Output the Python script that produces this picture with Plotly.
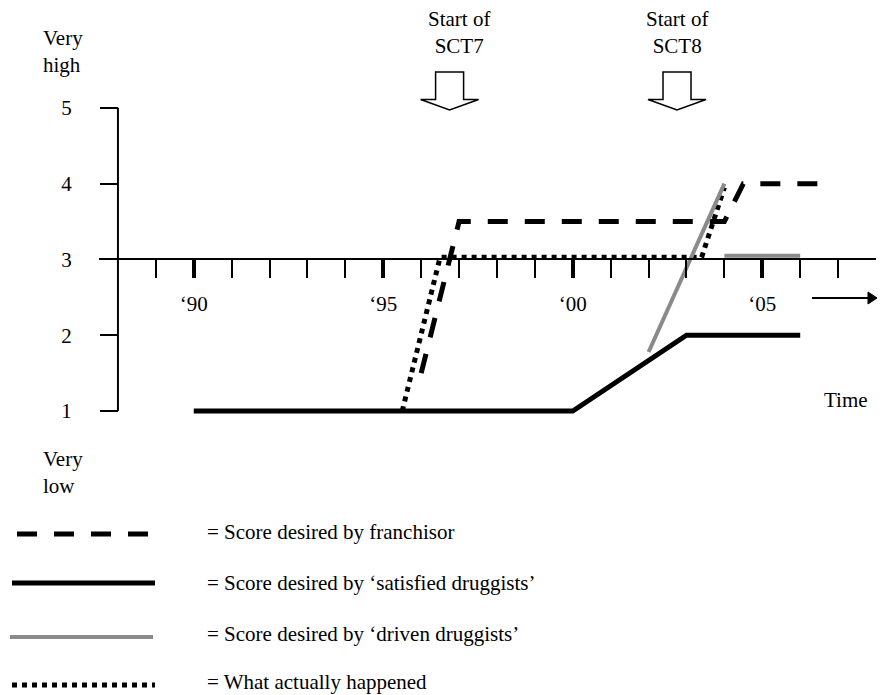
import plotly.graph_objects as go

# ---------------- data ----------------
major_years = [1990, 1995, 2000, 2005]
major_labels = ["‘90", "‘95", "‘00", "‘05"]
minor_years = [1989, 1991, 1992, 1993, 1994, 1996, 1997, 1998, 1999,
               2001, 2002, 2003, 2004, 2006, 2007]
score_ticks = [1, 2, 3, 4, 5]

franchisor_x = [1996.0, 1997.0, 2004.0, 2004.5, 2006.5]
franchisor_y = [1.5, 3.5, 3.5, 4.0, 4.0]

satisfied_x = [1990, 2000, 2003, 2006]
satisfied_y = [1, 1, 2, 2]

driven_x = [2002, 2004, None, 2004, 2006]
driven_y = [1.78, 4.0, None, 3.05, 3.05]

actual_x = [1995.5, 1996.5, 2003.4, 2004.0]
actual_y = [1.0, 3.03, 3.03, 3.95]

sct_arrow_years = [1996.75, 2002.75]
sct_label_years = [1997.0, 2002.75]
sct_labels = ["Start of<br>SCT7", "Start of<br>SCT8"]

legend_labels = [
    "= Score desired by franchisor",
    "= Score desired by ‘satisfied druggists’",
    "= Score desired by ‘driven druggists’",
    "= What actually happened",
]

# ---------------- layout constants ----------------
OFF = 8                      # page body margin of the html page
W, H = 886 - OFF, 695 - OFF
PLOT_LEFT, PLOT_TOP = 99, 32  # in window pixels
MR, MB = 10, 246
ML, MT = PLOT_LEFT - OFF, PLOT_TOP - OFF
X_RANGE = [1987.5, 2008.0]
Y_RANGE = [0.5, 6.0]
Y_AXIS_AT = 1988
X_AXIS_AT = 3
FONT = "Liberation Serif, Times New Roman, serif"
FS = 21
GRAY = "#8a8a8a"
DASH = "20px,17px"
DOT = "5px,5px"

PW = W - ML - MR
PH = H - MT - MB


def px_x(px):
    return (px - PLOT_LEFT) / PW


def px_y(py):
    return (PLOT_TOP + PH - py) / PH


def y_at_px(py):
    return Y_RANGE[1] - (py - PLOT_TOP) / PH * (Y_RANGE[1] - Y_RANGE[0])


fig = go.Figure()

fig.add_trace(go.Scatter(x=satisfied_x, y=satisfied_y, mode="lines",
                         line=dict(color="black", width=5),
                         hoverinfo="skip", showlegend=False))
fig.add_trace(go.Scatter(x=franchisor_x, y=franchisor_y, mode="lines",
                         line=dict(color="black", width=5, dash=DASH),
                         hoverinfo="skip", showlegend=False))
fig.add_trace(go.Scatter(x=actual_x, y=actual_y, mode="lines",
                         line=dict(color="black", width=5, dash=DOT),
                         hoverinfo="skip", showlegend=False))
fig.add_trace(go.Scatter(x=driven_x, y=driven_y, mode="lines",
                         line=dict(color=GRAY, width=4),
                         connectgaps=False,
                         hoverinfo="skip", showlegend=False))

shapes = []
# vertical score axis line (from 1 to 5)
shapes.append(dict(type="line", xref="x", yref="y",
                   x0=Y_AXIS_AT, x1=Y_AXIS_AT, y0=score_ticks[0], y1=score_ticks[-1],
                   line=dict(color="black", width=2)))

# block arrows "Start of SCTx"
tip_y = y_at_px(110)
arrow_path = "M -14,38 L -14,10.5 L -29,10.5 L 0,0 L 29,10.5 L 14,10.5 L 14,38 Z"
for yr in sct_arrow_years:
    shapes.append(dict(type="path", xref="x", yref="y",
                       xsizemode="pixel", ysizemode="pixel",
                       xanchor=yr, yanchor=tip_y, path=arrow_path,
                       fillcolor="white", line=dict(color="black", width=1.5)))

# time arrow (shaft + filled head), placed in page pixels
ARROW_TAIL, ARROW_TIP, ARROW_Y = 812, 877, 298
shapes.append(dict(type="line", xref="paper", yref="paper",
                   x0=px_x(ARROW_TAIL), x1=px_x(ARROW_TIP - 8), y0=px_y(ARROW_Y), y1=px_y(ARROW_Y),
                   line=dict(color="black", width=2)))
head = "M {:.5f},{:.5f} L {:.5f},{:.5f} L {:.5f},{:.5f} Z".format(
    px_x(ARROW_TIP), px_y(ARROW_Y), px_x(ARROW_TIP - 9), px_y(ARROW_Y - 6),
    px_x(ARROW_TIP - 9), px_y(ARROW_Y + 6))
shapes.append(dict(type="path", xref="paper", yref="paper", path=head,
                   fillcolor="black", line=dict(color="black", width=1)))

# legend samples
legend_rows = [(17, 150, 534, dict(color="black", width=5, dash=DASH)),
               (12, 155, 583, dict(color="black", width=5)),
               (10, 153, 637, dict(color=GRAY, width=4)),
               (12, 155, 685, dict(color="black", width=5, dash=DOT))]
for x0, x1, yy, ln in legend_rows:
    shapes.append(dict(type="line", xref="paper", yref="paper",
                       x0=px_x(x0), x1=px_x(x1), y0=px_y(yy), y1=px_y(yy), line=ln))

annotations = []
legend_text_y = [532, 583, 634, 682]
for lab, yy in zip(legend_labels, legend_text_y):
    annotations.append(dict(xref="paper", yref="paper", x=px_x(205), y=px_y(yy),
                            xanchor="left", yanchor="middle", text=lab,
                            showarrow=False, font=dict(size=FS)))

for yr, lab in zip(sct_label_years, sct_labels):
    annotations.append(dict(xref="x", yref="paper", x=yr, y=px_y(33),
                            xanchor="center", yanchor="middle", text=lab,
                            showarrow=False, font=dict(size=FS)))

annotations.append(dict(xref="paper", yref="paper", x=px_x(41), y=px_y(51),
                        xanchor="left", yanchor="middle", align="left",
                        text="Very<br>high", showarrow=False, font=dict(size=FS)))
annotations.append(dict(xref="paper", yref="paper", x=px_x(41), y=px_y(472),
                        xanchor="left", yanchor="middle", align="left",
                        text="Very<br>low", showarrow=False, font=dict(size=FS)))
annotations.append(dict(xref="paper", yref="paper", x=px_x(846), y=px_y(400),
                        xanchor="center", yanchor="middle",
                        text="Time", showarrow=False, font=dict(size=FS)))

fig.update_layout(
    width=W, height=H,
    margin=dict(l=ML, r=MR, t=MT, b=MB),
    paper_bgcolor="white", plot_bgcolor="white",
    font=dict(family=FONT, size=FS, color="black"),
    showlegend=False,
    shapes=shapes,
    annotations=annotations,
    xaxis=dict(
        range=X_RANGE, anchor="free",
        position=(X_AXIS_AT - Y_RANGE[0]) / (Y_RANGE[1] - Y_RANGE[0]),
        showgrid=False, zeroline=False,
        showline=True, linecolor="black", linewidth=2,
        tickmode="array", tickvals=major_years, ticktext=major_labels,
        ticks="outside", ticklen=18, tickwidth=4, tickcolor="black",
        ticklabelstandoff=7,
        tickfont=dict(size=FS),
        minor=dict(tickmode="array", tickvals=minor_years, ticks="outside",
                   ticklen=18, tickwidth=2, tickcolor="black", showgrid=False),
        fixedrange=True,
    ),
    yaxis=dict(
        range=Y_RANGE, anchor="free",
        position=(Y_AXIS_AT - X_RANGE[0]) / (X_RANGE[1] - X_RANGE[0]),
        showgrid=False, zeroline=False, showline=False,
        tickmode="array", tickvals=score_ticks,
        ticks="outside", ticklen=18, tickwidth=2, tickcolor="black",
        ticklabelstandoff=24,
        tickfont=dict(size=FS),
        fixedrange=True,
    ),
)

fig.write_html("out.html", config={"displayModeBar": False})
